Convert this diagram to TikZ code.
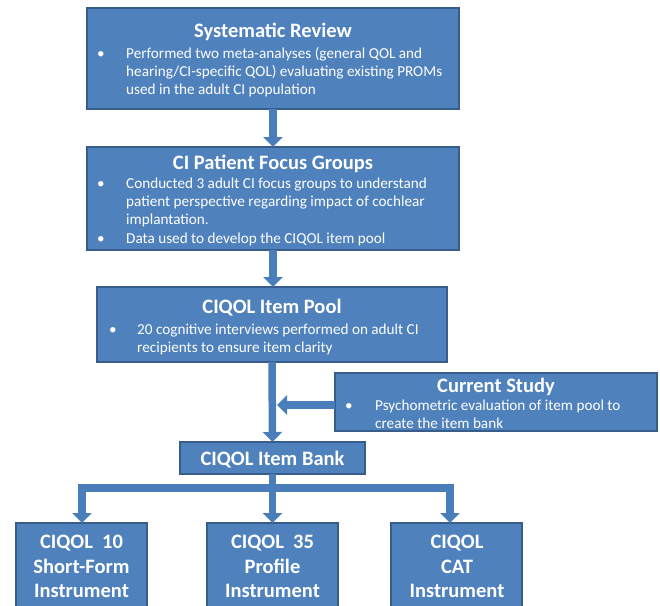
\documentclass[tikz,border=0pt]{standalone}
\usepackage{fontspec}
\setmainfont{Carlito}
\usetikzlibrary{arrows.meta}
\definecolor{boxfill}{HTML}{4F81BD}
\definecolor{boxline}{HTML}{385D8A}
\definecolor{arrcol}{HTML}{4A7EBB}
\newcommand{\bul}[1]{\leavevmode\llap{\makebox[#1][l]{\textbullet}}}
\begin{document}
\begin{tikzpicture}[x=1pt,y=-1pt,
  box/.style={draw=boxline, line width=1.5pt, fill=boxfill, anchor=north west, inner sep=0pt, outer sep=0pt},
  ttl/.style={text=white, font=\bfseries\fontsize{20.5}{25}\selectfont, anchor=base, inner sep=0pt},
  body/.style={text=white, font=\fontsize{15.2}{18.3}\selectfont, anchor=base west, inner sep=0pt},
  arr/.style={draw=arrcol, line width=7.5pt, -{Triangle[width=19pt,length=10pt]}},
  shaft/.style={draw=arrcol, line width=7.5pt}
]
\clip (0,0) rectangle (660,605);
% boxes
\node[box, minimum width=372pt, minimum height=101pt] (sr) at (87,8) {};
\node[box, minimum width=372pt, minimum height=103pt] (fg) at (87,147) {};
\node[box, minimum width=350pt, minimum height=75pt] (ip) at (97,287) {};
\node[box, minimum width=322pt, minimum height=58pt] (cs) at (335,373) {};
\node[box, minimum width=185pt, minimum height=32pt] (ib) at (180,442) {};
\node[box, minimum width=131pt, minimum height=97pt] (b1) at (16,523) {};
\node[box, minimum width=131pt, minimum height=97pt] (b2) at (207,523) {};
\node[box, minimum width=131pt, minimum height=97pt] (b3) at (391,523) {};
% texts
\node[ttl] (srt) at (273,37.7) {Systematic Review};
\node[body] (srb) at (126,58.3) {\parbox[t]{360pt}{\raggedright\bul{29pt}Performed two meta-analyses (general QOL and\\hearing/CI-specific QOL) evaluating existing PROMs\\used in the adult CI population}};
\node[ttl] (fgt) at (273,169) {CI Patient Focus Groups};
\node[body] (fgb1) at (126,188) {\parbox[t]{360pt}{\raggedright\bul{29pt}Conducted 3 adult CI focus groups to understand\\patient perspective regarding impact of cochlear\\implantation.}};
\node[body] (fgb2) at (126,243) {\bul{29pt}Data used to develop the CIQOL item pool};
\node[ttl] (ipt) at (272,313) {CIQOL Item Pool};
\node[body] (ipb) at (137,334) {\parbox[t]{320pt}{\raggedright\bul{28pt}20 cognitive interviews performed on adult CI\\recipients to ensure item clarity}};
\node[ttl] (cst) at (496,392) {Current Study};
\node[body] (csb) at (375,410) {\parbox[t]{300pt}{\raggedright\bul{30pt}Psychometric evaluation of item pool to\\create the item bank}};
\node[ttl] (ibt) at (272.5,465) {CIQOL Item Bank};
\node[ttl] (b1a) at (81.5,548) {CIQOL\ \ 10};
\node[ttl] (b1b) at (81.5,573) {Short-Form};
\node[ttl] (b1c) at (81.5,597) {Instrument};
\node[ttl] (b2a) at (272.5,548) {CIQOL\ \ 35};
\node[ttl] (b2b) at (272.5,573) {Profile};
\node[ttl] (b2c) at (272.5,597) {Instrument};
\node[ttl] (b3a) at (457,548) {CIQOL};
\node[ttl] (b3b) at (457,573) {CAT};
\node[ttl] (b3c) at (457,597) {Instrument};
% connectors
\coordinate (ctip) at (277,405);
\coordinate (j) at (272.5,488);
\coordinate (jl) at (82,488);
\coordinate (jr) at (450,488);
\draw[arr] (sr.south) -- (fg.north);
\draw[arr] (fg.south) -- (ip.north -| fg.south);
\draw[arr] (ip.south) -- (ib.north);
\draw[arr] (cs.west |- ctip) -- (ctip);
\draw[shaft] (ib.south) -- (j);
\draw[arr] (jr) -- (jl) -- (jl |- b1.north);
\draw[arr] (jl) -- (jr) -- (jr |- b3.north);
\draw[arr] (j) -- (b2.north);
\end{tikzpicture}
\end{document}
